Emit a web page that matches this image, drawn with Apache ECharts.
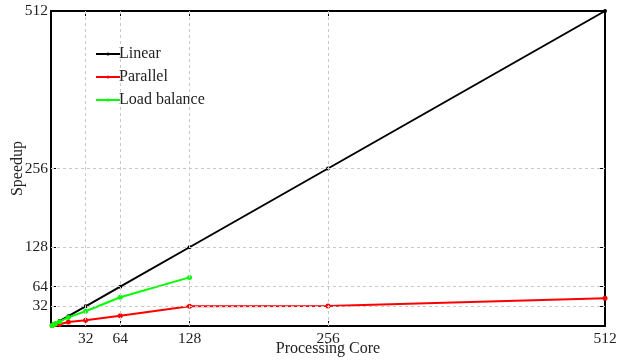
<!DOCTYPE html>
<html><head><meta charset="utf-8">
<script src="https://cdn.jsdelivr.net/npm/echarts@6/dist/echarts.min.js"></script>
<style>html,body{margin:0;padding:0;background:#fff}#c{width:626px;height:361px}</style>
</head><body><div id="c"></div>
<script>
var cores = [1, 2, 4, 8, 16, 32, 64, 128, 256, 512];
var linear = [1, 2, 4, 8, 16, 32, 64, 128, 256, 512];
var parallel = [1, 1.9, 2.6, 2.8, 6.5, 9.3, 16.7, 32, 32.5, 45];
var loadCores = [1, 2, 4, 8, 16, 32, 64, 128];
var loadBalance = [1, 2, 3.7, 7, 14, 24, 46.7, 79];
var xTicks = [0, 32, 64, 128, 256, 512];
var yTicks = [0, 32, 64, 128, 256, 512];
var xGrid = [32, 64, 128, 256];
var yGrid = [32, 64, 128, 256];

function pairs(xs, ys){ return xs.map(function(x,i){return [x, ys[i]];}); }
var font = 'Liberation Serif';
var chart = echarts.init(document.getElementById('c'));
function axisBase(pos, ticks, showLabel){
  return {
    type:'value', min:0, max:512, position:pos, nameMoveOverlap:false,
    axisLine:{show:true, onZero:false, lineStyle:{color:'#000', width:2}},
    axisTick:{show:true, inside:true, length:5, customValues:ticks, lineStyle:{color:'#000', width:1}},
    axisLabel:{show:showLabel, customValues:ticks.filter(function(v){return v>0;}), fontFamily:font, fontSize:15.5, color:'#222', margin:4},
    splitLine:{show:false}
  };
}
var xa0 = axisBase('bottom', xTicks, true);
xa0.name = 'Processing Core'; xa0.nameLocation='middle'; xa0.nameGap=15;
xa0.nameTextStyle = {fontFamily:font, fontSize:16, color:'#222'};
xa0.axisLabel.margin = 5;
var xa1 = axisBase('top', xTicks, false);
var ya0 = axisBase('left', yTicks, true);
ya0.name='Speedup'; ya0.nameLocation='middle'; ya0.nameGap=25;
ya0.nameTextStyle = {fontFamily:font, fontSize:16, color:'#222'};
ya0.axisLabel.margin = 3;
var ya1 = axisBase('right', yTicks, false);

var gridLines = xGrid.map(function(v){return {xAxis:v};}).concat(yGrid.map(function(v){return {yAxis:v};}));

chart.setOption({
  animation:false,
  grid:{left:51, right:21, top:11, bottom:35, containLabel:false, outerBoundsMode:'none'},
  xAxis:[xa0, xa1],
  yAxis:[ya0, ya1],
  legend:{
    left:90, top:41, orient:'vertical', itemGap:7, itemWidth:24, itemHeight:4,
    textStyle:{fontFamily:font, fontSize:16, color:'#222', padding:[0,0,0,-6]},
    data:['Linear','Parallel','Load balance']
  },
  series:[
    {type:'line', name:'_grid', data:[], silent:true, xAxisIndex:0, yAxisIndex:0,
     markLine:{silent:true, symbol:'none', label:{show:false},
       lineStyle:{color:'#c8c8c8', type:[3,3], width:1}, data:gridLines}},
    {type:'line', name:'Linear', data:pairs(cores, linear), symbol:'circle', symbolSize:4,
     itemStyle:{color:'#000'}, lineStyle:{color:'#000', width:2}},
    {type:'line', name:'Parallel', data:pairs(cores, parallel), symbol:'circle', symbolSize:5,
     itemStyle:{color:'#ff0000'}, lineStyle:{color:'#ff0000', width:2}},
    {type:'line', name:'Load balance', data:pairs(loadCores, loadBalance), symbol:'circle', symbolSize:5,
     itemStyle:{color:'#00ff00'}, lineStyle:{color:'#00ff00', width:2}}
  ]
});
</script></body></html>
